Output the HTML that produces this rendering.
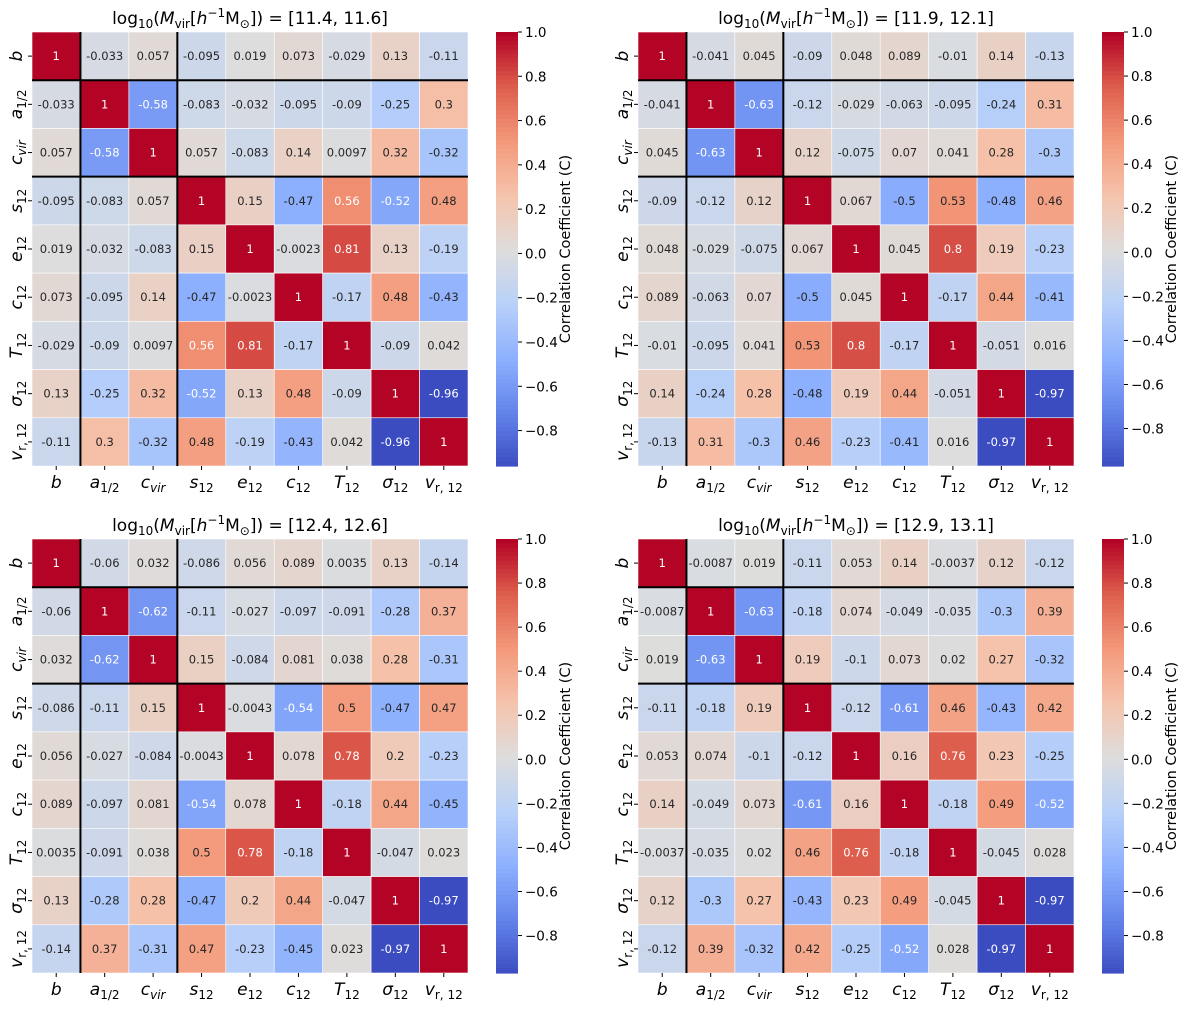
<!DOCTYPE html>
<html><head><meta charset="utf-8"><style>
body{margin:0;background:#fff;}
svg{display:block;font-family:"DejaVu Sans","Liberation Sans",sans-serif;}
</style></head><body>
<svg id="fig" width="1200" height="1014" viewBox="0 0 1200 1014" xmlns="http://www.w3.org/2000/svg"></svg>
<script>
const titles=["[11.4, 11.6]","[11.9, 12.1]","[12.4, 12.6]","[12.9, 13.1]"];
const m1=[[1,-0.033,0.057,-0.095,0.019,0.073,-0.029,0.13,-0.11],[-0.033,1,-0.58,-0.083,-0.032,-0.095,-0.09,-0.25,0.3],[0.057,-0.58,1,0.057,-0.083,0.14,0.0097,0.32,-0.32],[-0.095,-0.083,0.057,1,0.15,-0.47,0.56,-0.52,0.48],[0.019,-0.032,-0.083,0.15,1,-0.0023,0.81,0.13,-0.19],[0.073,-0.095,0.14,-0.47,-0.0023,1,-0.17,0.48,-0.43],[-0.029,-0.09,0.0097,0.56,0.81,-0.17,1,-0.09,0.042],[0.13,-0.25,0.32,-0.52,0.13,0.48,-0.09,1,-0.96],[-0.11,0.3,-0.32,0.48,-0.19,-0.43,0.042,-0.96,1]];
const m2=[[1,-0.041,0.045,-0.09,0.048,0.089,-0.01,0.14,-0.13],[-0.041,1,-0.63,-0.12,-0.029,-0.063,-0.095,-0.24,0.31],[0.045,-0.63,1,0.12,-0.075,0.07,0.041,0.28,-0.3],[-0.09,-0.12,0.12,1,0.067,-0.5,0.53,-0.48,0.46],[0.048,-0.029,-0.075,0.067,1,0.045,0.8,0.19,-0.23],[0.089,-0.063,0.07,-0.5,0.045,1,-0.17,0.44,-0.41],[-0.01,-0.095,0.041,0.53,0.8,-0.17,1,-0.051,0.016],[0.14,-0.24,0.28,-0.48,0.19,0.44,-0.051,1,-0.97],[-0.13,0.31,-0.3,0.46,-0.23,-0.41,0.016,-0.97,1]];
const m3=[[1,-0.06,0.032,-0.086,0.056,0.089,0.0035,0.13,-0.14],[-0.06,1,-0.62,-0.11,-0.027,-0.097,-0.091,-0.28,0.37],[0.032,-0.62,1,0.15,-0.084,0.081,0.038,0.28,-0.31],[-0.086,-0.11,0.15,1,-0.0043,-0.54,0.5,-0.47,0.47],[0.056,-0.027,-0.084,-0.0043,1,0.078,0.78,0.2,-0.23],[0.089,-0.097,0.081,-0.54,0.078,1,-0.18,0.44,-0.45],[0.0035,-0.091,0.038,0.5,0.78,-0.18,1,-0.047,0.023],[0.13,-0.28,0.28,-0.47,0.2,0.44,-0.047,1,-0.97],[-0.14,0.37,-0.31,0.47,-0.23,-0.45,0.023,-0.97,1]];
const m4=[[1,-0.0087,0.019,-0.11,0.053,0.14,-0.0037,0.12,-0.12],[-0.0087,1,-0.63,-0.18,0.074,-0.049,-0.035,-0.3,0.39],[0.019,-0.63,1,0.19,-0.1,0.073,0.02,0.27,-0.32],[-0.11,-0.18,0.19,1,-0.12,-0.61,0.46,-0.43,0.42],[0.053,0.074,-0.1,-0.12,1,0.16,0.76,0.23,-0.25],[0.14,-0.049,0.073,-0.61,0.16,1,-0.18,0.49,-0.52],[-0.0037,-0.035,0.02,0.46,0.76,-0.18,1,-0.045,0.028],[0.12,-0.3,0.27,-0.43,0.23,0.49,-0.045,1,-0.97],[-0.12,0.39,-0.32,0.42,-0.25,-0.52,0.028,-0.97,1]];
const matrices=[m1,m2,m3,m4];
const cbTicks=[1.0,0.8,0.6,0.4,0.2,0.0,-0.2,-0.4,-0.6,-0.8];
const labels=[["b",""],["a","1/2"],["c","vir"],["s","12"],["e","12"],["c","12"],["T","12"],["σ","12"],["v","r, 12"]];

const NS="http://www.w3.org/2000/svg";
const fig=document.getElementById('fig');
function el(t,a,p){const e=document.createElementNS(NS,t);for(const k in a)e.setAttribute(k,a[k]);(p||fig).appendChild(e);return e;}
const cw=[[59,76,192],[98,130,234],[141,176,254],[184,208,249],[221,221,221],[245,196,173],[244,154,123],[222,96,77],[180,4,38]];
function cmap(t){t=Math.max(0,Math.min(1,t));const f=t*8,i=Math.min(7,Math.floor(f)),r=f-i;return cw[i].map((c,k)=>Math.round(c+(cw[i+1][k]-c)*r));}
function lum(c){const l=c.map(v=>{v/=255;return v<=0.03928?v/12.92:Math.pow((v+0.055)/1.055,2.4);});return 0.2126*l[0]+0.7152*l[1]+0.0722*l[2];}
function fmt(v){return (Math.round(v*10000)/10000).toString();}
function labelText(g,x,y,lab,rot){
  const t=el('text',{x:x,y:y,'font-size':17,'text-anchor':'middle',fill:'#000'},g);
  if(rot)t.setAttribute('transform','rotate(-90 '+x+' '+y+')');
  const a=el('tspan',{'font-style':lab[0]==='σ'?'italic':'italic'},t);a.textContent=lab[0];
  if(lab[1]){const b=el('tspan',{'font-size':12,dy:4,'font-style':(lab[1]==='vir')?'italic':'normal'},t);b.textContent=lab[1];}
}
const origins=[[32,32],[638,32],[32,539],[638,539]];
matrices.forEach((M,p)=>{
  const [ox,oy]=origins[p];const W=436,H=434,n=9,cwid=W/n,ch=H/n;
  const flat=M.flat();const vmin=Math.min(...flat),vmax=1;
  const g=el('g',{});
  
  
  const xs=i=>ox+i*cwid, ys=j=>oy+j*ch, norm=v=>(v-vmin)/(vmax-vmin);
  M.forEach((row,j)=>row.forEach((v,i)=>{
    const c=cmap(norm(v));
    const r=el('rect',{x:xs(i),y:ys(j),width:cwid,height:ch,fill:'rgb('+c+')',stroke:'#fff','stroke-width':0.6},g);
    
    
    const t=el('text',{x:xs(i)+cwid/2,y:ys(j)+ch/2+4,'font-size':11.5,'text-anchor':'middle',fill:lum(c)>0.408?'#262626':'#fff'},g);
    t.textContent=fmt(v);
  }));
  [1,3].forEach(k=>{
    el('line',{x1:xs(k),x2:xs(k),y1:oy,y2:oy+H,stroke:'#000','stroke-width':2},g);
    el('line',{x1:ox,x2:ox+W,y1:ys(k),y2:ys(k),stroke:'#000','stroke-width':2},g);
  });
  labels.forEach((lab,i)=>{
    const cx=xs(i)+cwid/2;el('line',{x1:cx,x2:cx,y1:oy+H,y2:oy+H+4,stroke:'#000'},g);
    labelText(g,cx,oy+H+22,lab,false);
    const cy=ys(i)+ch/2;el('line',{x1:ox-4,x2:ox,y1:cy,y2:cy,stroke:'#000'},g);
    labelText(g,ox-10,cy,lab,true);
  });
  const tt=el('text',{x:ox+W/2,y:oy-8,'font-size':17,'text-anchor':'middle',fill:'#000'},g);
  
  
  tt.innerHTML='log<tspan font-size="12" dy="4">10</tspan><tspan dy="-4">(</tspan><tspan font-style="italic">M</tspan><tspan font-size="12" dy="4">vir</tspan><tspan dy="-4">[</tspan><tspan font-style="italic">h</tspan><tspan font-size="12" dy="-7">−1</tspan><tspan dy="7">M</tspan><tspan font-size="12" dy="4">⊙</tspan><tspan dy="-4">]) = '+titles[p]+'</tspan>';
  // colorbar
  const bx=ox+464,bw=22;const cb=el('g',{},g);
  
  
  const steps=100;for(let k=0;k<steps;k++){const v=vmax-(vmax-vmin)*k/steps;el('rect',{x:bx,y:oy+H*k/steps,width:bw,height:H/steps+0.6,fill:'rgb('+cmap(norm(v))+')'},cb);}
  const cy=v=>oy+H*(vmax-v)/(vmax-vmin);
  cbTicks.forEach(v=>{const y=cy(v);el('line',{x1:bx+bw,x2:bx+bw+4,y1:y,y2:y,stroke:'#000'},cb);
    const t=el('text',{x:bx+bw+7,y:y+5,'font-size':13.5,fill:'#000'},cb);t.textContent=(v<0?'−':'')+Math.abs(v).toFixed(1);});
  const lx=bx+bw+52,ly=oy+H/2;const lt=el('text',{x:lx,y:ly,'font-size':14.5,'text-anchor':'middle',transform:'rotate(-90 '+lx+' '+ly+')',fill:'#000'},cb);
  lt.textContent='Correlation Coefficient (C)';
});
</script>
</body></html>
